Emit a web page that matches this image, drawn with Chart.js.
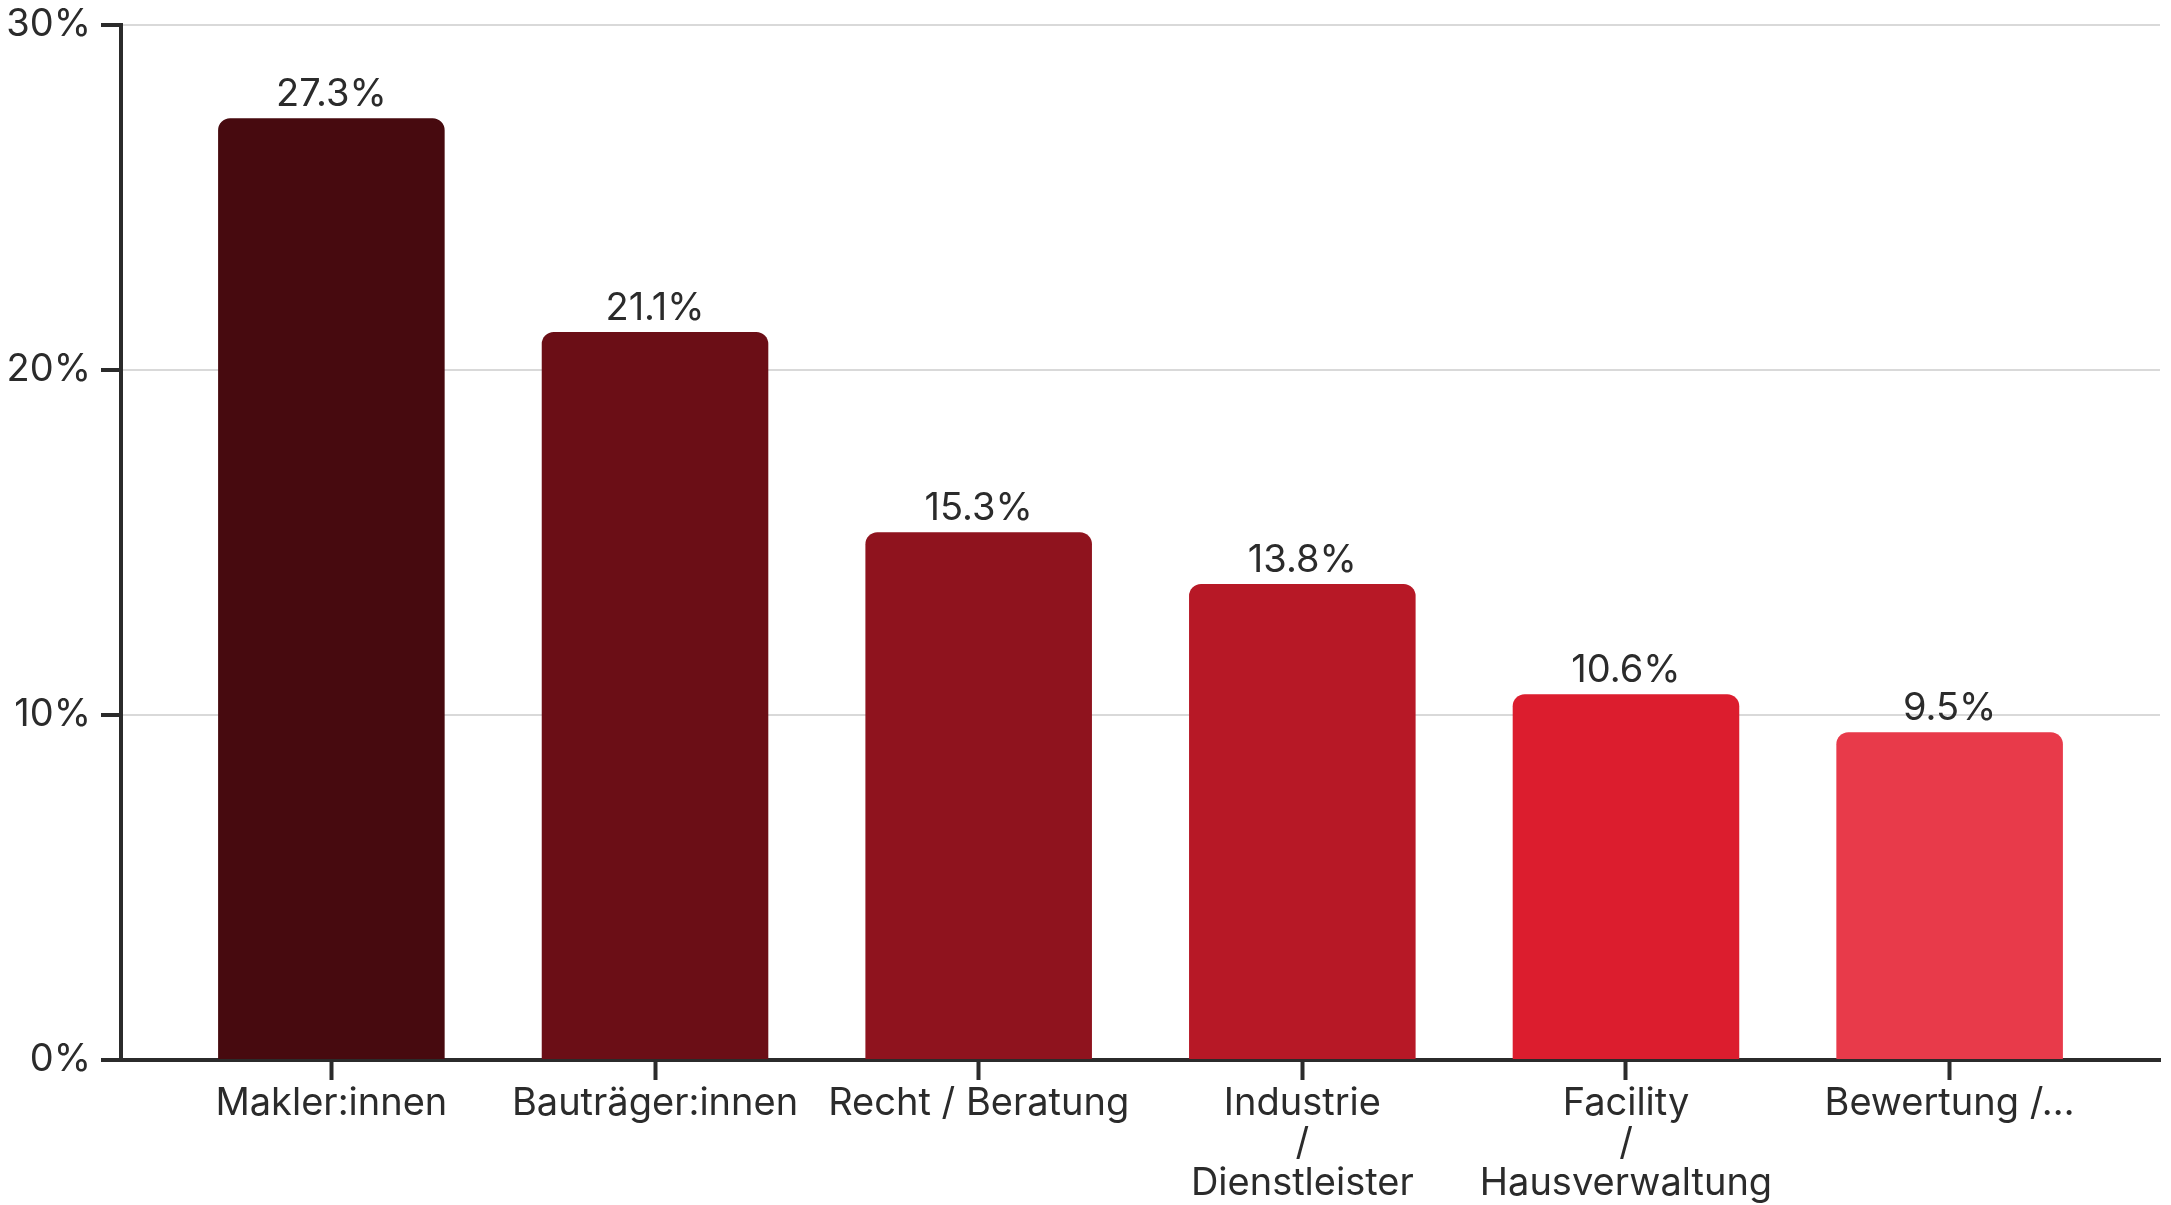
<!DOCTYPE html>
<html>
<head>
<meta charset="utf-8">
<script src="https://cdn.jsdelivr.net/npm/chart.js@4/dist/chart.umd.min.js"></script>
<style>
  html, body { margin: 0; padding: 0; background: #fff; }
  #wrap { width: 2171px; height: 1205px; }
</style>
</head>
<body>
<div id="wrap"><canvas id="myChart" width="2171" height="1205"></canvas></div>
<script>
 // Chart data
 const categories = [
   'Makler:innen',
   'Bauträger:innen',
   'Recht / Beratung',
   ['Industrie', '/', 'Dienstleister'],
   ['Facility', '/', 'Hausverwaltung'],
   'Bewertung /…'
 ];
 const shares = [27.3, 21.1, 15.3, 13.8, 10.6, 9.5];
 const barColors = ['#470a0f', '#6b0e16', '#8f131e', '#b71826', '#dc1d2e', '#e83a4a'];
 const yTicks = [0, 10, 20, 30];

 const textColor = '#2b2b2b';
 const fontFamily = 'Inter, "Noto Sans", sans-serif';

 // draws the value above each bar
 const valueLabels = {
   id: 'valueLabels',
   afterDatasetsDraw(chart) {
     const ctx = chart.ctx;
     const meta = chart.getDatasetMeta(0);
     ctx.save();
     ctx.font = '38px ' + fontFamily;
     ctx.fillStyle = textColor;
     ctx.textAlign = 'center';
     ctx.textBaseline = 'alphabetic';
     meta.data.forEach((bar, i) => {
       ctx.fillText(shares[i].toFixed(1) + '%', bar.x, bar.y - 12);
     });
     ctx.restore();
   }
 };

 const ctx = document.getElementById('myChart').getContext('2d');
 const myChart = new Chart(ctx, {
   type: 'bar',
   data: {
     datasets: [{
       data: shares.map((v, i) => ({ x: i, y: v })),
       backgroundColor: barColors,
       borderRadius: { topLeft: 12, topRight: 12 },
       borderSkipped: 'bottom',
       categoryPercentage: 0.7,
       barPercentage: 1
     }]
   },
   options: {
     responsive: false,
     animation: false,
     layout: { padding: { top: 0, right: 11, left: 0, bottom: 0 } },
     plugins: { legend: { display: false }, tooltip: { enabled: false } },
     scales: {
       x: {
         type: 'linear',
         offset: false,
         min: -0.65,
         max: 5.65,
         afterBuildTicks: scale => { scale.ticks = categories.map((c, i) => ({ value: i })); },
         afterFit: scale => { scale.height = 145; },
         grid: { offset: false, drawOnChartArea: false, tickLength: 20, tickColor: textColor, tickWidth: 4 },
         border: { color: textColor, width: 4 },
         ticks: {
           autoSkip: false,
           maxRotation: 0,
           padding: 4,
           color: textColor,
           font: { family: fontFamily, size: 38, lineHeight: 1.05 },
           callback: v => categories[v]
         }
       },
       y: {
         min: 0,
         max: 30,
         afterBuildTicks: scale => { scale.ticks = yTicks.map(v => ({ value: v })); },
         afterFit: scale => { scale.width = 121; scale.paddingTop = 25; scale.paddingBottom = 0; },
         grid: { color: '#d9d9d9', lineWidth: 2, tickLength: 20, tickColor: textColor, tickWidth: 4 },
         border: { color: textColor, width: 4 },
         ticks: {
           padding: 10,
           color: textColor,
           font: { family: fontFamily, size: 38 },
           callback: v => v + '%'
         }
       }
     }
   },
   plugins: [valueLabels]
 });
</script>
</body>
</html>
